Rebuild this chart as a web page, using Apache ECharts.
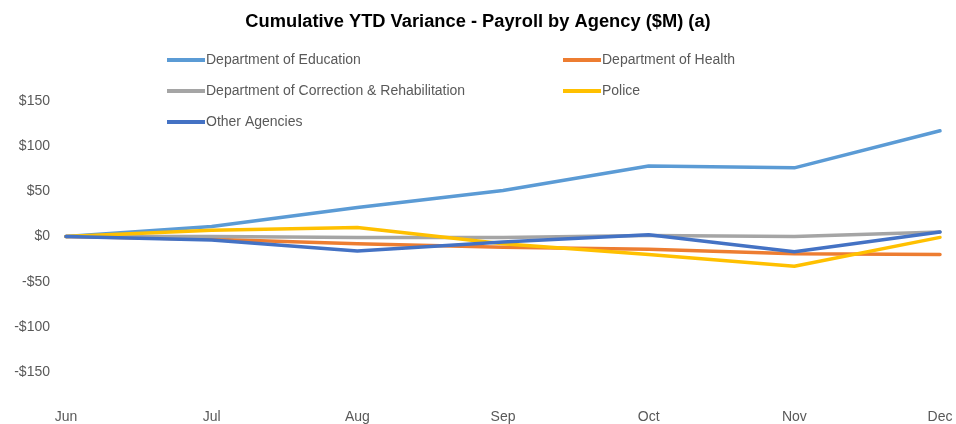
<!DOCTYPE html>
<html><head><meta charset="utf-8">
<script src="https://cdn.jsdelivr.net/npm/echarts@6/dist/echarts.min.js"></script>
<style>html,body{margin:0;padding:0;background:#fff}#c{width:956px;height:424px}</style>
</head><body><div id="c"></div>
<script>
const months = ['Jun','Jul','Aug','Sep','Oct','Nov','Dec'];
const education = [0, 11, 32, 51, 78, 76, 117];
const health = [0, -3, -8, -12, -14, -19, -20];
const correction = [0, 0, -1, -1, 1, 0, 5];
const police = [0, 7, 10, -8, -20, -33, -1];
const other = [0, -4, -16, -6, 2, -17, 5];
const yTicks = [-150, -100, -50, 0, 50, 100, 150];

const names = ['Department of Education','Department of Health','Department of Correction & Rehabilitation','Police','Other Agencies'];
const colors = ['#5B9BD5','#ED7D31','#A5A5A5','#FFC000','#4472C4'];
const values = [education, health, correction, police, other];
const font = 'Liberation Sans';

const chart = echarts.init(document.getElementById('c'));
const legendBase = {
  orient: 'vertical', top: 48, itemWidth: 38, itemHeight: 4, itemGap: 17,
  icon: 'rect',
  textStyle: {fontFamily: font, fontSize: 14, color: '#595959', padding: [0,0,0,-4]},
};
chart.setOption({
  animation: false,
  title: {text: 'Cumulative YTD Variance - Payroll by Agency ($M) (a)', left: 'center', top: 8,
    textStyle: {fontFamily: font, fontSize: 18.3, fontWeight: 'bold', color: '#000'}},
  legend: [
    Object.assign({}, legendBase, {left: 162, data: [names[0], names[2], names[4]]}),
    Object.assign({}, legendBase, {left: 558, data: [names[1], names[3]]})
  ],
  grid: {left: 66, right: 16, top: 101, bottom: 49, containLabel: false},
  xAxis: {type: 'category', data: months, boundaryGap: false,
    axisLine: {show: false}, axisTick: {show: false},
    axisLabel: {margin: 38, fontFamily: font, fontSize: 14, color: '#595959'}},
  yAxis: {type: 'value', min: yTicks[0], max: yTicks[yTicks.length-1], interval: 50,
    splitLine: {show: false}, axisLine: {show: false}, axisTick: {show: false},
    axisLabel: {margin: 16, fontFamily: font, fontSize: 14, color: '#595959',
      formatter: v => (v < 0 ? '-$' + (-v) : '$' + v)}},
  series: names.map((n, i) => ({
    name: n, type: 'line', data: values[i], symbol: 'none',
    lineStyle: {width: 3.5, color: colors[i], cap: 'round', join: 'round'},
    itemStyle: {color: colors[i]}, z: 2 + i
  }))
});
</script></body></html>
